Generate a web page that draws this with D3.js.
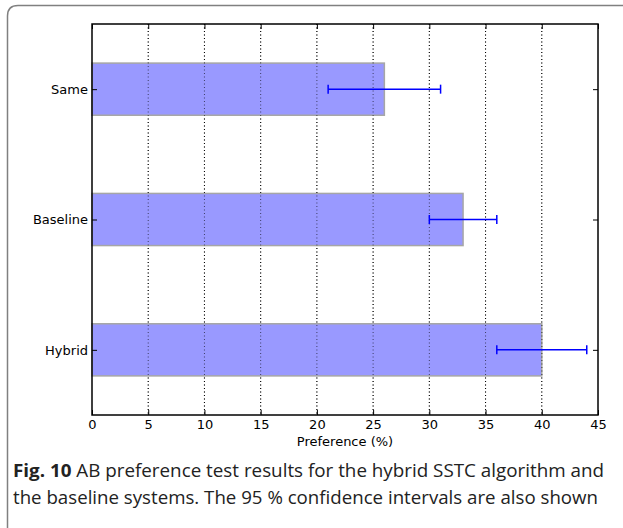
<!DOCTYPE html>
<meta charset="utf-8">
<style>
body { margin: 0; background: #fff; }
.grid line { stroke: #000; stroke-width: 1; stroke-dasharray: 1,2.5; }
</style>
<body>
<script src="https://d3js.org/d3.v7.min.js"></script>
<script>

// data
var categories = ["Hybrid", "Baseline", "Same"];
var preference = [40, 33, 26];
var ciLow = [36, 30, 21];
var ciHigh = [44, 36, 31];
var xTicks = [0, 5, 10, 15, 20, 25, 30, 35, 40, 45];

var W = 623, H = 528;
// plot box (note: "top" is reserved on window, so use pTop etc.)
var pLeft = 92, pRight = 598, pTop = 24, pBottom = 415;
var tickFont = "DejaVu Sans, sans-serif";

var svg = d3.select("body").append("svg")
    .attr("width", W)
    .attr("height", H);

// frame around figure (top + left edges, rounded corner)
svg.append("path")
    .attr("d", "M7.5," + H + " L7.5,16 Q7.5,5.5 18,5.5 L" + W + ",5.5")
    .attr("fill", "none")
    .attr("stroke", "#808080")
    .attr("stroke-width", 1.5);

var x = d3.scaleLinear().domain([0, 45]).range([pLeft, pRight]);
var y = d3.scaleLinear().domain([-0.5, 2.5]).range([pBottom, pTop]);
var ypos = categories.map((d, i) => i);

// dotted vertical grid
svg.append("g")
    .attr("class", "grid")
    .selectAll("line")
    .data(xTicks.slice(1, -1))
  .enter().append("line")
    .attr("x1", d => x(d)).attr("x2", d => x(d))
    .attr("y1", pTop).attr("y2", pBottom);

// bars
var barH = y(0) - y(0.4);
svg.selectAll(".bar")
    .data(preference)
  .enter().append("rect")
    .attr("class", "bar")
    .attr("x", x(0))
    .attr("y", (d, i) => y(ypos[i]) - barH / 2)
    .attr("width", d => x(d) - x(0))
    .attr("height", barH)
    .attr("fill", "#9999ff")
    .attr("stroke", "#a6a6a6")
    .attr("stroke-width", 1.5);

// grid dots again on top of bars, a bit lighter
svg.append("g")
    .attr("class", "grid")
    .attr("opacity", 0.6)
    .selectAll("line")
    .data(xTicks.slice(1, -1))
  .enter().append("line")
    .attr("x1", d => x(d)).attr("x2", d => x(d))
    .attr("y1", pTop).attr("y2", pBottom);

// error bars
var err = svg.append("g").attr("stroke", "#0000ff").attr("stroke-width", 1.5);
categories.forEach(function(c, i) {
  var yy = y(ypos[i]);
  err.append("line").attr("x1", x(ciLow[i])).attr("x2", x(ciHigh[i])).attr("y1", yy).attr("y2", yy);
  err.append("line").attr("x1", x(ciLow[i])).attr("x2", x(ciLow[i])).attr("y1", yy - 4.5).attr("y2", yy + 4.5);
  err.append("line").attr("x1", x(ciHigh[i])).attr("x2", x(ciHigh[i])).attr("y1", yy - 4.5).attr("y2", yy + 4.5);
});

// axes, ticks pointing inward like matplotlib
var xAxis = d3.axisBottom(x).tickValues(xTicks).tickSize(-5).tickPadding(5);
svg.append("g")
    .attr("transform", "translate(0," + pBottom + ")")
    .call(xAxis)
    .attr("font-family", tickFont)
    .attr("font-size", 13)
    .call(g => g.select(".domain").remove());

svg.append("g")
    .attr("transform", "translate(0," + pTop + ")")
    .call(d3.axisTop(x).tickValues(xTicks).tickSize(-5).tickFormat(""))
    .call(g => g.select(".domain").remove());

var yAxis = d3.axisLeft(y).tickValues(ypos).tickFormat((d, i) => categories[i]).tickSize(-5).tickPadding(4);
svg.append("g")
    .attr("transform", "translate(" + pLeft + ",0)")
    .call(yAxis)
    .attr("font-family", tickFont)
    .attr("font-size", 13)
    .call(g => g.select(".domain").remove());

svg.append("g")
    .attr("transform", "translate(" + pRight + ",0)")
    .call(d3.axisRight(y).tickValues(ypos).tickSize(-5).tickFormat(""))
    .call(g => g.select(".domain").remove());

svg.selectAll(".tick line").attr("stroke", "#000").attr("stroke-width", 1);
svg.selectAll(".tick text").attr("fill", "#000");

// plot frame
svg.append("rect")
    .attr("x", pLeft).attr("y", pTop)
    .attr("width", pRight - pLeft).attr("height", pBottom - pTop)
    .attr("fill", "none")
    .attr("stroke", "#000")
    .attr("stroke-width", 1.5);

svg.append("text")
    .attr("x", (pLeft + pRight) / 2)
    .attr("y", 446)
    .attr("text-anchor", "middle")
    .style("font-family", tickFont)
    .style("font-size", "13px")
    .text("Preference (%)");

// caption
var cap1 = svg.append("text")
    .attr("x", 13).attr("y", 477)
    .attr("textLength", 591)
    .attr("lengthAdjust", "spacingAndGlyphs")
    .style("font-family", "Open Sans, sans-serif")
    .style("font-size", "18px")
    .style("fill", "#222");
cap1.append("tspan").style("font-weight", "bold").text("Fig. 10");
cap1.append("tspan").text(" AB preference test results for the hybrid SSTC algorithm and");

svg.append("text")
    .attr("x", 13).attr("y", 504)
    .attr("textLength", 585)
    .attr("lengthAdjust", "spacingAndGlyphs")
    .style("font-family", "Open Sans, sans-serif")
    .style("font-size", "18px")
    .style("fill", "#222")
    .text("the baseline systems. The 95 % confidence intervals are also shown");

</script>
</body>
